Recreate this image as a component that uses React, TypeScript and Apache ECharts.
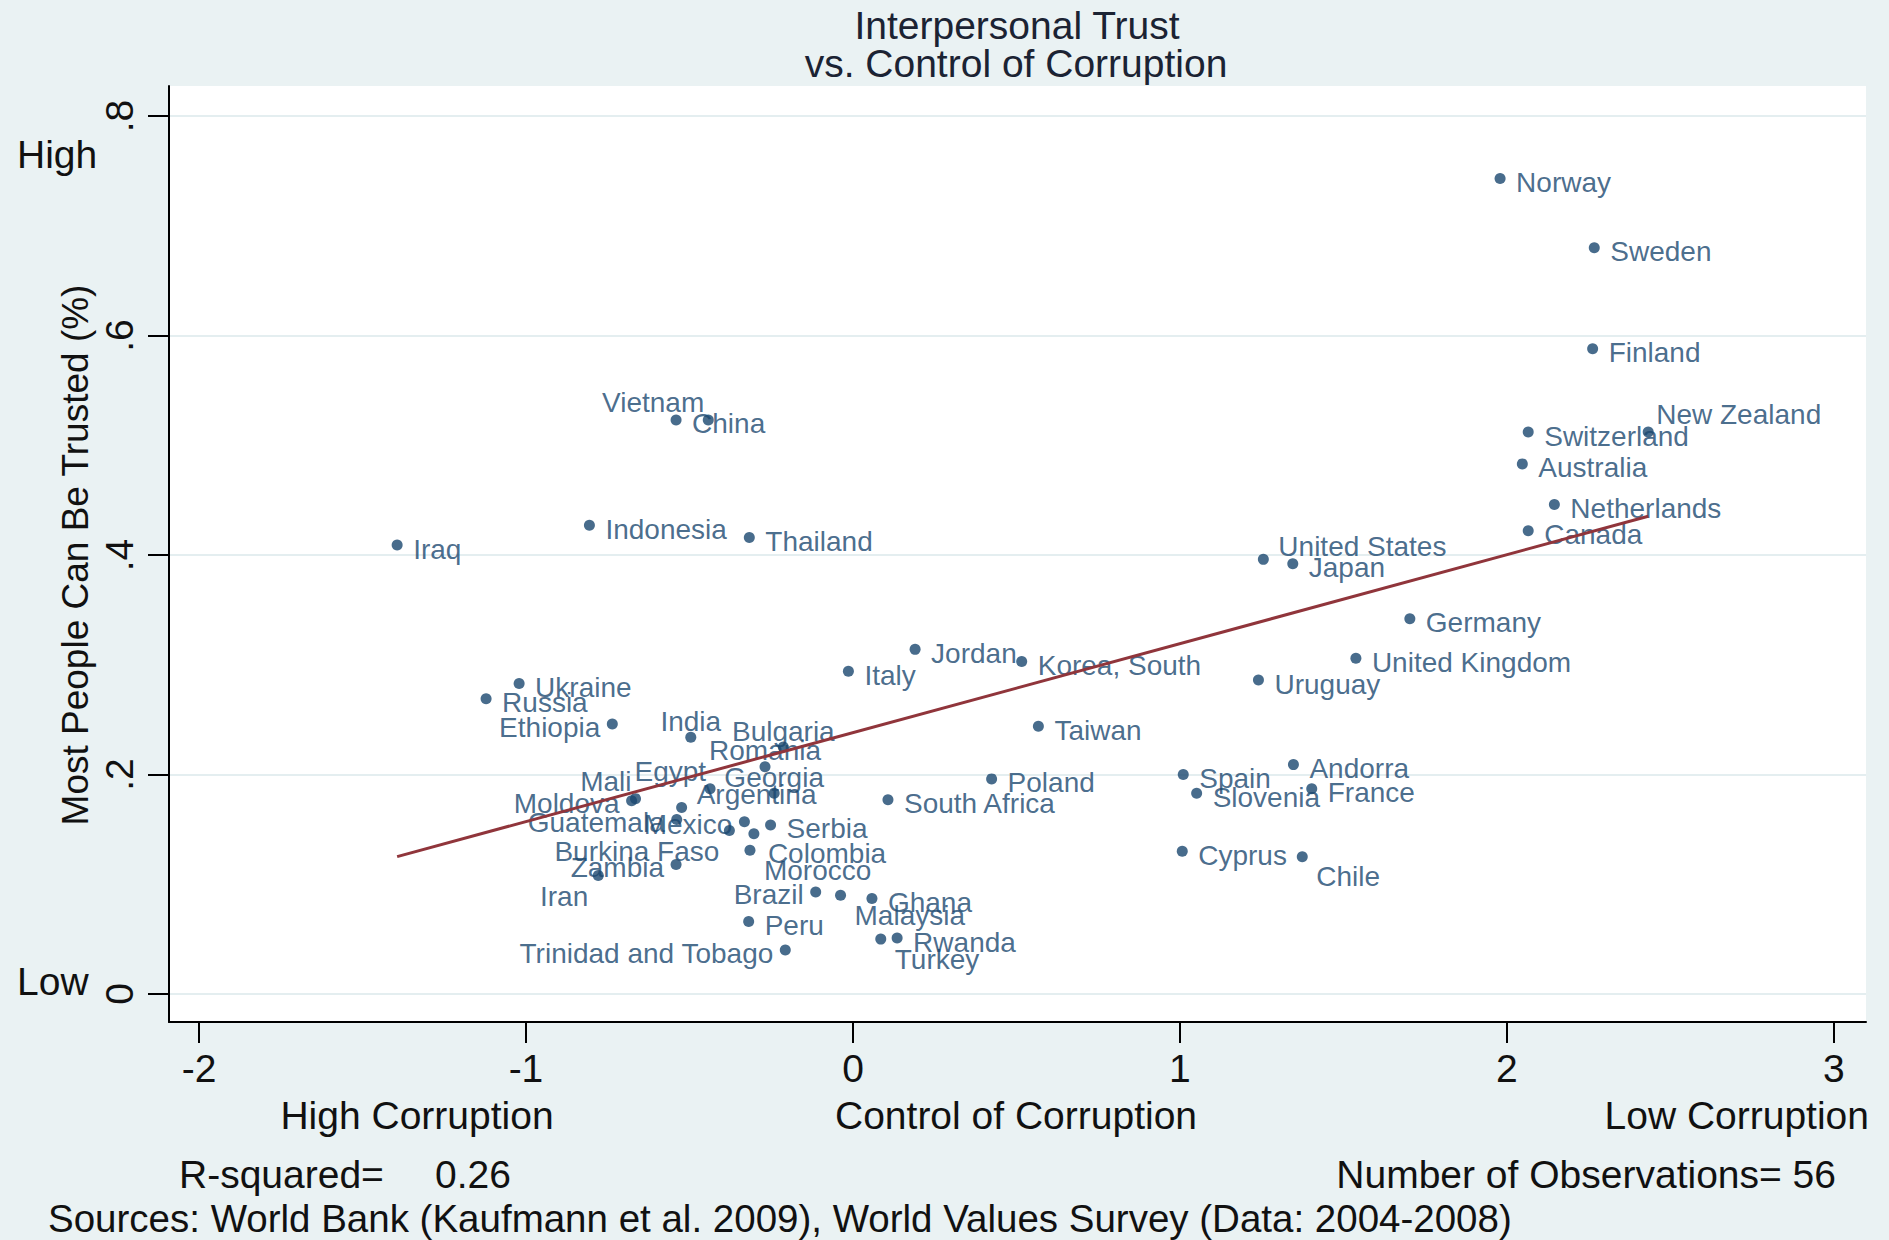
import React, { useEffect, useRef } from 'react';
import * as echarts from 'echarts';

const countries = [
  'Norway', 'Sweden', 'Finland', 'New Zealand', 'Switzerland', 'Australia', 'Netherlands', 'Canada',
  'United States', 'Japan', 'Germany', 'United Kingdom', 'Uruguay', 'Korea, South', 'Jordan', 'Italy',
  'Taiwan', 'Spain', 'Slovenia', 'Andorra', 'France', 'Cyprus', 'Chile', 'Poland', 'South Africa',
  'Iraq', 'Indonesia', 'Thailand', 'Vietnam', 'China', 'Ukraine', 'Russia', 'Ethiopia', 'India',
  'Bulgaria', 'Romania', 'Georgia', 'Egypt', 'Argentina', 'Mali', 'Moldova', 'Guatemala', 'Mexico',
  'Serbia', 'Burkina Faso', 'Colombia', 'Zambia', 'Morocco', 'Iran', 'Brazil', 'Ghana', 'Malaysia',
  'Peru', 'Trinidad and Tobago', 'Rwanda', 'Turkey',
];

const controlOfCorruption = [
  1.979, 2.267, 2.262, 2.432, 2.065, 2.047, 2.145, 2.065,
  1.255, 1.345, 1.703, 1.538, 1.240, 0.516, 0.190, -0.014,
  0.567, 1.010, 1.051, 1.347, 1.403, 1.007, 1.374, 0.424, 0.107,
  -1.394, -0.806, -0.317, -0.4425, -0.541, -1.021, -1.122, -0.736, -0.496,
  -0.213, -0.269, -0.241, -0.437, -0.524, -0.665, -0.677, -0.539, -0.332,
  -0.252, -0.378, -0.303, -0.541, -0.315, -0.779, -0.114, 0.058, -0.038,
  -0.319, -0.207, 0.135, 0.085,
];

const trustShare = [
  0.743, 0.680, 0.588, 0.512, 0.512, 0.483, 0.446, 0.422,
  0.396, 0.392, 0.342, 0.306, 0.286, 0.303, 0.314, 0.294,
  0.244, 0.200, 0.183, 0.209, 0.187, 0.130, 0.125, 0.196, 0.177,
  0.409, 0.427, 0.416, 0.523, 0.523, 0.283, 0.269, 0.246, 0.234,
  0.225, 0.207, 0.183, 0.187, 0.170, 0.178, 0.176, 0.159, 0.157,
  0.154, 0.149, 0.146, 0.118, 0.131, 0.108, 0.093, 0.087, 0.090,
  0.066, 0.040, 0.051, 0.050,
];

const xTicks = [-2, -1, 0, 1, 2, 3];
const yTicks = [0, 0.2, 0.4, 0.6, 0.8];
const rSquaredLabel = 'R-squared=';
const rSquaredValue = '0.26';
const observationsLabel = 'Number of Observations= 56';
const sourcesLabel = 'Sources: World Bank (Kaufmann et al. 2009), World Values Survey (Data: 2004-2008)';

// label placement (Stata-like clock positions); default 3 o'clock
const labelClock: Record<string, number> = {
  'New Zealand': 1, 'United States': 2, Chile: 4, Vietnam: 11, Ethiopia: 9, India: 12,
  Bulgaria: 12, Romania: 12, Georgia: 12, Egypt: 11, Argentina: 2, Mali: 11, Moldova: 9,
  Guatemala: 9, Mexico: 9, 'Burkina Faso': 8, Colombia: 4, Zambia: 9, Morocco: 4, Iran: 8,
  Brazil: 9, Malaysia: 4, 'Trinidad and Tobago': 9, Turkey: 4,
};
const clockOffsets: Record<number, { dx: number; dy: number; align: string }> = {
  3: { dx: 16, dy: 4, align: 'left' },
  2: { dx: 15, dy: -13, align: 'left' },
  1: { dx: 8, dy: -18, align: 'left' },
  12: { dx: 0, dy: -16, align: 'center' },
  11: { dx: -4, dy: -17, align: 'right' },
  9: { dx: -12, dy: 3, align: 'right' },
  8: { dx: -10, dy: 21, align: 'right' },
  4: { dx: 14, dy: 20, align: 'left' },
};

const FONT = "'Liberation Sans', Arial, Helvetica, sans-serif";
const NAVY = '#1a476f';
const MAROON = '#90353b';
const BG = '#eaf2f3';
const TEXT = '#111111';
const BIG = 39;
const LABEL = 28;

function fitLine() {
  const n = controlOfCorruption.length;
  const mx = controlOfCorruption.reduce((a, b) => a + b, 0) / n;
  const my = trustShare.reduce((a, b) => a + b, 0) / n;
  let sxy = 0;
  let sxx = 0;
  for (let i = 0; i < n; i++) {
    sxy += (controlOfCorruption[i] - mx) * (trustShare[i] - my);
    sxx += (controlOfCorruption[i] - mx) ** 2;
  }
  const b = sxy / sxx;
  const a = my - b * mx;
  const x0 = Math.min(...controlOfCorruption);
  const x1 = Math.max(...controlOfCorruption);
  return [[x0, a + b * x0], [x1, a + b * x1]];
}

function txt(x: number, y: number, text: string, align: string, extra: any = {}) {
  const { fill, fontSize, ...rest } = extra;
  return {
    type: 'text', x, y, ...rest,
    style: { text, fontSize: fontSize ?? BIG, fontFamily: FONT, fill: fill ?? TEXT, align, verticalAlign: 'middle' },
  };
}

export default function App() {
  const ref = useRef<HTMLDivElement>(null);
  useEffect(() => {
    document.body.style.margin = '0';
    const chart = echarts.init(ref.current!, undefined, { renderer: 'svg' });
    const points = countries.map((name, i) => {
      const c = clockOffsets[labelClock[name] ?? 3];
      return {
        name,
        value: [controlOfCorruption[i], trustShare[i]],
        label: { align: c.align, offset: [c.dx, c.dy] },
      };
    });
    const option: any = {
      animation: false,
      backgroundColor: BG,
      grid: {
        left: 169, top: 86, width: 1697, height: 936,
        show: true, backgroundColor: '#ffffff', borderWidth: 0,
        containLabel: false, outerBoundsMode: 'none',
      },
      xAxis: {
        type: 'value', min: -2.0917, max: 3.098,
        axisLine: { show: true, onZero: false, lineStyle: { color: '#000', width: 2 } },
        axisTick: { show: true, customValues: xTicks, length: 21, inside: false, lineStyle: { color: '#000', width: 2 } },
        axisLabel: {
          show: true, customValues: xTicks, fontSize: BIG, fontFamily: FONT, color: TEXT, margin: 27,
          formatter: (v: number) => String(Math.round(v)),
        },
        splitLine: { show: false },
      },
      yAxis: {
        type: 'value', min: -0.02551, max: 0.8273,
        axisLine: { show: true, onZero: false, lineStyle: { color: '#000', width: 2 } },
        axisTick: { show: true, customValues: yTicks, length: 21, inside: false, lineStyle: { color: '#000', width: 2 } },
        axisLabel: {
          show: true, customValues: yTicks, fontSize: BIG, fontFamily: FONT, color: TEXT, margin: 30, rotate: 90,
          formatter: (v: number) => (Math.abs(v) < 1e-9 ? '0' : '.' + Math.round(v * 10)),
        },
        splitLine: { show: false },
      },
      series: [
        {
          type: 'line', data: [], z: 0, silent: true,
          markLine: {
            z: 0, silent: true, symbol: ['none', 'none'], label: { show: false },
            lineStyle: { color: '#e4eef0', width: 2, type: 'solid' },
            data: yTicks.map((v) => ({ yAxis: v })),
          },
        },
        {
          type: 'scatter', z: 2, symbol: 'circle', symbolSize: 11,
          itemStyle: { color: NAVY },
          label: {
            show: true, position: 'inside', formatter: '{b}', color: NAVY,
            fontSize: LABEL, fontFamily: FONT, verticalAlign: 'middle',
          },
          data: points,
        },
        {
          type: 'line', z: 3, showSymbol: false, symbol: 'none', silent: true,
          lineStyle: { color: MAROON, width: 3 },
          data: fitLine(),
        },
      ],
      graphic: [
        txt(1017, 25, 'Interpersonal Trust', 'center', { fill: '#1b2333' }),
        txt(1016, 63, 'vs. Control of Corruption', 'center', { fill: '#1b2333' }),
        txt(17, 154, 'High', 'left'),
        txt(17, 981, 'Low', 'left'),
        txt(75, 555, 'Most People Can Be Trusted (%)', 'center', { rotation: Math.PI / 2, fontSize: 37 }),
        txt(417, 1115, 'High Corruption', 'center'),
        txt(1016, 1115, 'Control of Corruption', 'center'),
        txt(1869, 1115, 'Low Corruption', 'right'),
        txt(179, 1174, rSquaredLabel, 'left'),
        txt(435, 1174, rSquaredValue, 'left'),
        txt(1836, 1174, observationsLabel, 'right'),
        txt(48, 1218, sourcesLabel, 'left', { fontSize: 38.5 }),
      ],
    };
    chart.setOption(option);
    return () => chart.dispose();
  }, []);
  return <div ref={ref} style={{ position: 'absolute', left: 0, top: 0, width: 1889, height: 1240, background: BG }} />;
}
